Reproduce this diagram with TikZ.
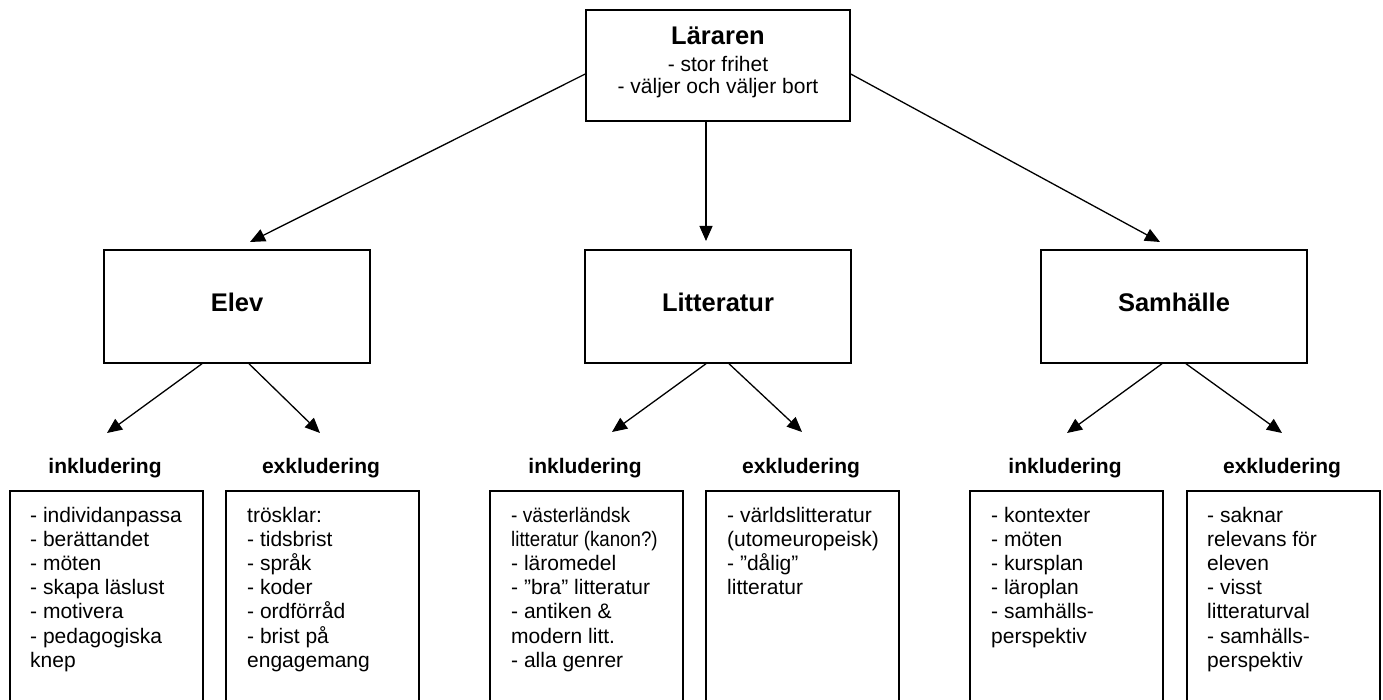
\documentclass[tikz,border=0pt]{standalone}
\usepackage{fontspec}
\setmainfont{Liberation Sans}
\usepackage{graphicx}
\usetikzlibrary{arrows.meta}
\begin{document}
\begin{tikzpicture}[x=1pt,y=-1pt,
  box/.style={draw,line width=1.5pt,inner sep=0pt},
  arr/.style={line width=1.3pt,-{Triangle[length=15pt,width=13pt]}},
  body/.style={font=\fontsize{21}{24.2}\selectfont},
  head/.style={font=\fontsize{25.5}{28}\selectfont\bfseries},
  mainbox/.style={box,head,minimum width=266pt,minimum height=113pt,text height=18.3pt,text depth=7.5pt},
  sub/.style={font=\fontsize{21}{24}\selectfont\bfseries,inner sep=0pt,anchor=base},
  listbox/.style={box,anchor=north west,minimum width=193pt,minimum height=260pt},
  list/.style={body,align=left,anchor=north west,inner sep=0pt}]
\useasboundingbox (0,0) rectangle (1383,700);
\clip (0,0) rectangle (1383,700);
\fill[white] (0,0) rectangle (1383,700);

% top box
\node[box,minimum width=264pt,minimum height=111pt] (lar) at (718,65.5) {};
\node[font=\fontsize{21}{22.5}\selectfont,align=center,inner sep=0pt] (lartxt) at (718,62.5)
  {{\fontsize{25.5}{28}\selectfont\bfseries Läraren}\\[4pt]- stor frihet\\- väljer och väljer bort};

% middle boxes
\node[mainbox] (elev) at (237,306.5) {Elev};
\node[mainbox] (lit) at (718,306.5) {Litteratur};
\node[mainbox] (sam) at (1174,306.5) {Samhälle};

% arrow tips
\coordinate (tE) at (250,242);
\coordinate (tL) at (706,241);
\coordinate (tS) at (1160,242);
\coordinate (e1) at (107,433);
\coordinate (e2) at (320,433);
\coordinate (l1) at (612,432);
\coordinate (l2) at (802,432);
\coordinate (s1) at (1067,433);
\coordinate (s2) at (1282,433);

\draw[arr] ([yshift=-8.5pt]lar.west) -- (tE);
\draw[arr] ([xshift=-12pt]lar.south) -- (tL);
\draw[arr] ([yshift=-8.5pt]lar.east) -- (tS);

\draw[arr] ([xshift=-35pt]elev.south) -- (e1);
\draw[arr] ([xshift=12pt]elev.south) -- (e2);
\draw[arr] ([xshift=-12pt]lit.south) -- (l1);
\draw[arr] ([xshift=11pt]lit.south) -- (l2);
\draw[arr] ([xshift=-12pt]sam.south) -- (s1);
\draw[arr] ([xshift=12pt]sam.south) -- (s2);

% labels
\node[sub] (in1) at (105,473) {inkludering};
\node[sub] (ex1) at (321,473) {exkludering};
\node[sub] (in2) at (585,473) {inkludering};
\node[sub] (ex2) at (801,473) {exkludering};
\node[sub] (in3) at (1065,473) {inkludering};
\node[sub] (ex3) at (1282,473) {exkludering};

% bottom boxes
\node[listbox] (b1) at (9,490) {};
\node[listbox] (b2) at (225,490) {};
\node[listbox] (b3) at (489,490) {};
\node[listbox] (b4) at (705,490) {};
\node[listbox] (b5) at (969,490) {};
\node[listbox] (b6) at (1186,490) {};

\node[list] (t1) at (30,505) {\strut- individanpassa\\- berättandet\\- möten\\- skapa läslust\\- motivera\\- pedagogiska\\knep};
\node[list] (t2) at (247,505) {\strut trösklar:\\- tidsbrist\\- språk\\- koder\\- ordförråd\\- brist på\\engagemang};
\node[list] (t3) at (511,505) {\strut\scalebox{0.91}[1]{- västerländsk}\\\scalebox{0.89}[1]{litteratur (kanon?)}\\- läromedel\\- ”bra” litteratur\\- antiken \&\\modern litt.\\- alla genrer};
\node[list] (t4) at (727,505) {\strut- världslitteratur\\(utomeuropeisk)\\- ”dålig”\\litteratur};
\node[list] (t5) at (991,505) {\strut- kontexter\\- möten\\- kursplan\\- läroplan\\- samhälls-\\perspektiv};
\node[list] (t6) at (1207,505) {\strut- saknar\\relevans för\\eleven\\- visst\\litteraturval\\- samhälls-\\perspektiv};
\end{tikzpicture}
\end{document}
